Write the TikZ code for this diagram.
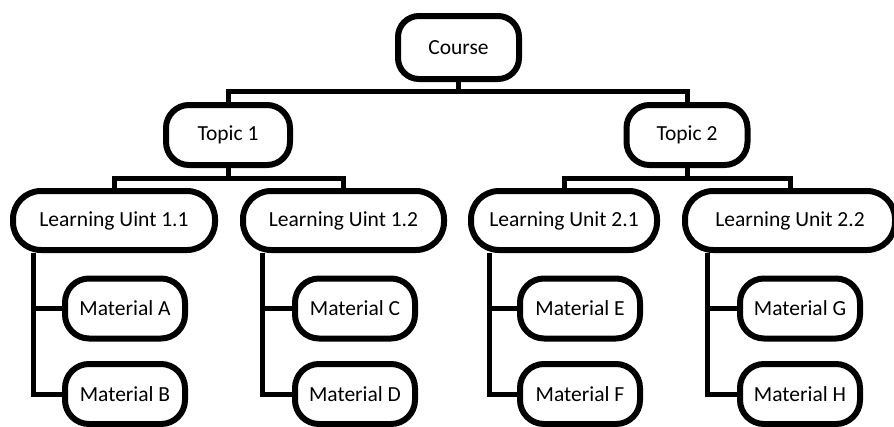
\documentclass[tikz,border=0pt]{standalone}
\usepackage{fontspec}
\setmainfont{Carlito}
\begin{document}
\begin{tikzpicture}[x=1pt,y=-1pt,
  box/.style={draw, line width=6pt, rounded corners=24pt, fill=white,
    inner sep=0pt, align=center, font=\fontsize{21.5}{25}\selectfont},
  topbox/.style={box, minimum height=60pt, rounded corners=23pt},
  unitbox/.style={box, minimum height=59pt, rounded corners=28pt},
  matbox/.style={box, minimum width=120pt, minimum height=60pt},
  link/.style={line width=5pt, line join=miter}]
\useasboundingbox (0,0) rectangle (894,426);

% root
\node[box, minimum width=121pt, minimum height=63pt, rounded corners=21pt] (course) at (458.5,47.5) {Course};

% topics
\node[topbox, minimum width=124pt] (t1) at (228,135) {Topic 1};
\node[topbox, minimum width=121pt] (t2) at (687,135) {Topic 2};

% learning units
\node[unitbox, minimum width=202pt] (lu11) at (114,220.5) {Learning Uint 1.1};
\node[unitbox, minimum width=201pt] (lu12) at (343.5,220.5) {Learning Uint 1.2};
\node[unitbox, minimum width=186pt] (lu21) at (564,220.5) {Learning Unit 2.1};
\node[unitbox, minimum width=210pt] (lu22) at (790,220.5) {Learning Unit 2.2};

% materials
\node[matbox] (ma) at (125,308.5) {Material A};
\node[matbox] (mb) at (125,394)   {Material B};
\node[matbox] (mc) at (355,308.5) {Material C};
\node[matbox] (md) at (355,394)   {Material D};
\node[matbox] (me) at (580,308.5) {Material E};
\node[matbox] (mf) at (580,394)   {Material F};
\node[matbox] (mg) at (800,308.5) {Material G};
\node[matbox] (mh) at (800,394)   {Material H};

% bar levels and spine positions
\coordinate (bar0) at (0,91);
\coordinate (bar1) at (0,178);
\coordinate (s11) at (33,0);
\coordinate (s12) at (262,0);
\coordinate (s21) at (489,0);
\coordinate (s22) at (707,0);

% course -> topics
\draw[link] (course.south) -- (course.south |- bar0) -| (t1.north);
\draw[link] (course.south) -- (course.south |- bar0) -| (t2.north);

% topics -> learning units
\draw[link] (t1.south) -- (t1.south |- bar1) -| (lu11.north);
\draw[link] (t1.south) -- (t1.south |- bar1) -| (lu12.north);
\draw[link] (t2.south) -- (t2.south |- bar1) -| (lu21.north);
\draw[link] (t2.south) -- (t2.south |- bar1) -| (lu22.north);

% learning units -> materials
\draw[link] (lu11.south -| s11) |- (ma.west);
\draw[link] (lu11.south -| s11) |- (mb.west);
\draw[link] (lu12.south -| s12) |- (mc.west);
\draw[link] (lu12.south -| s12) |- (md.west);
\draw[link] (lu21.south -| s21) |- (me.west);
\draw[link] (lu21.south -| s21) |- (mf.west);
\draw[link] (lu22.south -| s22) |- (mg.west);
\draw[link] (lu22.south -| s22) |- (mh.west);
\end{tikzpicture}
\end{document}
